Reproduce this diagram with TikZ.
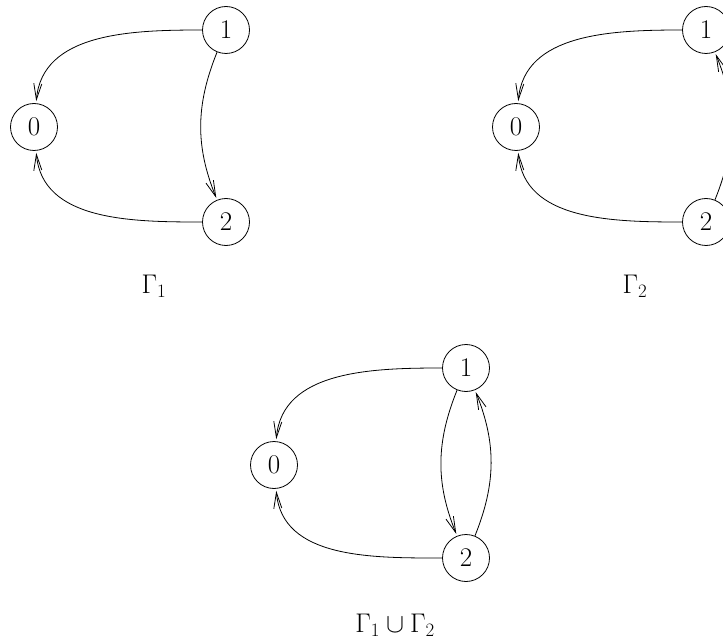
\RequirePackage{fix-cm}
\documentclass[tikz,border=0pt]{standalone}
\usetikzlibrary{arrows.meta}
\begin{document}
\begin{tikzpicture}[x=1pt,y=-1pt,
  vtx/.style={circle,draw,line width=0.8pt,minimum size=47pt,inner sep=0pt,font=\fontsize{27}{32}\selectfont},
  captext/.style={anchor=base,font=\fontsize{27}{32}\selectfont},
  arr/.style={line width=0.8pt,-{Straight Barb[length=16pt,width=8pt]},shorten >=2pt}]
\useasboundingbox (0,0) rectangle (723,639);
\begin{scope}
\clip (0,0) rectangle (723,639);
% Gamma 1
\node[vtx] (a0) at (34,127) {0};
\node[vtx] (a1) at (226,30) {1};
\node[vtx] (a2) at (226,222) {2};
\draw[arr] (a1) to[out=180,in=85] (a0);
\draw[arr] (a2) to[out=180,in=-85] (a0);
\draw[arr] (a1) to[bend right=22] (a2);
\node[captext] (c1) at (154,293) {$\Gamma_1$};
% Gamma 2
\node[vtx] (b0) at (516,127) {0};
\node[vtx] (b1) at (706,30) {1};
\node[vtx] (b2) at (706,222) {2};
\draw[arr] (b1) to[out=180,in=85] (b0);
\draw[arr] (b2) to[out=180,in=-85] (b0);
\draw[arr] (b2) to[bend right=22] (b1);
\node[captext] (c2) at (635,293) {$\Gamma_2$};
% union
\node[vtx] (u0) at (274,465) {0};
\node[vtx] (u1) at (466,368) {1};
\node[vtx] (u2) at (466,558) {2};
\draw[arr] (u1) to[out=180,in=85] (u0);
\draw[arr] (u2) to[out=180,in=-85] (u0);
\draw[arr] (u1) to[bend right=22] (u2);
\draw[arr] (u2) to[bend right=22] (u1);
\node[captext] (c3) at (395,632) {$\Gamma_1\cup\Gamma_2$};
\end{scope}
\end{tikzpicture}
\end{document}
